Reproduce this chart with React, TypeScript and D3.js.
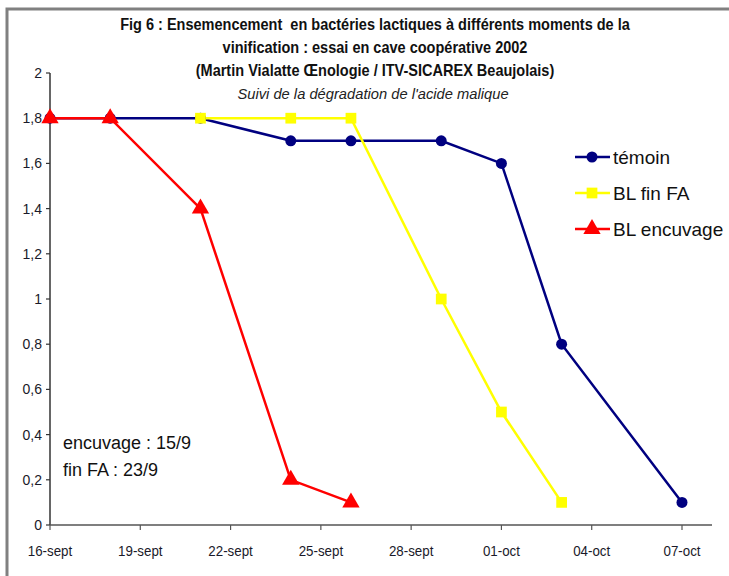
import React from "react";
import * as d3 from "d3";

const W = 729;
const H = 576;

const titleLines = [
  "Fig 6 : Ensemencement  en bactéries lactiques à différents moments de la",
  "vinification : essai en cave coopérative 2002",
  "(Martin Vialatte Œnologie / ITV-SICAREX Beaujolais)",
];
const subtitle = "Suivi de la dégradation de l'acide malique";

const xTickDates = ["2002-09-16", "2002-09-19", "2002-09-22", "2002-09-25", "2002-09-28", "2002-10-01", "2002-10-04", "2002-10-07"];
const xTickLabels = ["16-sept", "19-sept", "22-sept", "25-sept", "28-sept", "01-oct", "04-oct", "07-oct"];
const yTicks = [0, 0.2, 0.4, 0.6, 0.8, 1, 1.2, 1.4, 1.6, 1.8, 2];

const temoinDates = ["2002-09-16", "2002-09-18", "2002-09-21", "2002-09-24", "2002-09-26", "2002-09-29", "2002-10-01", "2002-10-03", "2002-10-07"];
const temoinValues = [1.8, 1.8, 1.8, 1.7, 1.7, 1.7, 1.6, 0.8, 0.1];

const finFADates = ["2002-09-21", "2002-09-24", "2002-09-26", "2002-09-29", "2002-10-01", "2002-10-03"];
const finFAValues = [1.8, 1.8, 1.8, 1.0, 0.5, 0.1];

const encuvageDates = ["2002-09-16", "2002-09-18", "2002-09-21", "2002-09-24", "2002-09-26"];
const encuvageValues = [1.8, 1.8, 1.4, 0.2, 0.1];

const seriesNames = ["témoin", "BL fin FA", "BL encuvage"];
const seriesColors = ["#000080", "#FFFF00", "#FF0000"];
const annotations = ["encuvage : 15/9", "fin FA : 23/9"];

const parse = (s: string) => new Date(s + "T00:00:00Z");

const x = d3.scaleUtc().domain([parse("2002-09-16"), parse("2002-10-07")]).range([50, 682]);
const y = d3.scaleLinear().domain([0, 2]).range([525, 73]);

type Pt = { d: Date; v: number };
const mk = (ds: string[], vs: number[]): Pt[] => ds.map((d, i) => ({ d: parse(d), v: vs[i] }));

const series = [
  { name: seriesNames[0], color: seriesColors[0], shape: "circle", pts: mk(temoinDates, temoinValues) },
  { name: seriesNames[1], color: seriesColors[1], shape: "square", pts: mk(finFADates, finFAValues) },
  { name: seriesNames[2], color: seriesColors[2], shape: "triangle", pts: mk(encuvageDates, encuvageValues) },
];

const line = d3.line<Pt>().x((p) => x(p.d)).y((p) => y(p.v));

const symPath = (shape: string) => {
  if (shape === "circle") return d3.symbol(d3.symbolCircle, 95)();
  if (shape === "square") return d3.symbol(d3.symbolSquare, 115)();
  return d3.symbol(d3.symbolTriangle, 130)();
};

const sans = "'Liberation Sans', Arial, sans-serif";

export default function App() {
  const xAxisEnd = 712;
  return (
    <svg width={W} height={H} style={{ position: "absolute", left: 0, top: 0, background: "#fff" }}>
      <rect x={0} y={0} width={W} height={H} fill="#fff" />
      {/* frame */}
      <path d={`M7,${H + 5} L7,9 L${W + 5},9`} fill="none" stroke="#808080" strokeWidth={3} />
      {/* title */}
      {titleLines.map((t, i) => (
        <text
          key={i}
          x={0}
          y={30 + i * 23}
          transform="translate(375,0) scale(0.88,1)"
          textAnchor="middle"
          fontFamily={sans}
          fontWeight="bold"
          fontSize={16.5}
          fill="#111"
          style={{ whiteSpace: "pre" }}
        >
          {t}
        </text>
      ))}
      <text x={0} y={99} transform="translate(373,0) scale(0.95,1)" textAnchor="middle" fontFamily={sans} fontStyle="italic" fontSize={15.5} fill="#222">
        {subtitle}
      </text>
      {/* y axis */}
      <line x1={50} x2={50} y1={y(2)} y2={y(0)} stroke="#333" strokeWidth={1.5} />
      {yTicks.map((t) => (
        <g key={t}>
          <line x1={46} x2={50} y1={y(t)} y2={y(t)} stroke="#333" strokeWidth={1.2} />
          <text x={42} y={y(t) + 5} textAnchor="end" fontFamily={sans} fontSize={14} fill="#1a1a2a">
            {String(t).replace(".", ",")}
          </text>
        </g>
      ))}
      {/* x axis */}
      <line x1={50} x2={xAxisEnd} y1={y(0)} y2={y(0)} stroke="#555" strokeWidth={1.5} />
      {xTickDates.map((d, i) => (
        <g key={d}>
          <line x1={x(parse(d))} x2={x(parse(d))} y1={y(0)} y2={y(0) + 5} stroke="#555" strokeWidth={1.2} />
          <text
            x={0}
            y={556}
            transform={`translate(${x(parse(d))},0) scale(0.92,1)`}
            textAnchor="middle"
            fontFamily={sans}
            fontSize={14.5}
            fill="#1a1a2a"
          >
            {xTickLabels[i]}
          </text>
        </g>
      ))}
      {/* series lines */}
      {series.map((s) => (
        <path key={s.name} d={line(s.pts) || ""} fill="none" stroke={s.color} strokeWidth={2.5} />
      ))}
      {/* markers */}
      {series.map((s) =>
        s.pts.map((p, i) => (
          <path key={s.name + i} d={symPath(s.shape) || ""} transform={`translate(${x(p.d)},${y(p.v)})`} fill={s.color} />
        ))
      )}
      {/* legend */}
      {series.map((s, i) => {
        const ly = 157 + i * 36;
        return (
          <g key={"lg" + i}>
            <line x1={575} x2={610} y1={ly} y2={ly} stroke={s.color} strokeWidth={2.5} />
            <path d={symPath(s.shape) || ""} transform={`translate(592,${ly})`} fill={s.color} />
            <text x={613} y={ly + 7} fontFamily={sans} fontSize={19} fill="#111">
              {s.name}
            </text>
          </g>
        );
      })}
      {/* annotations */}
      {annotations.map((a, i) => (
        <text key={a} x={63} y={449 + i * 27} fontFamily={sans} fontSize={18} fill="#111">
          {a}
        </text>
      ))}
    </svg>
  );
}
